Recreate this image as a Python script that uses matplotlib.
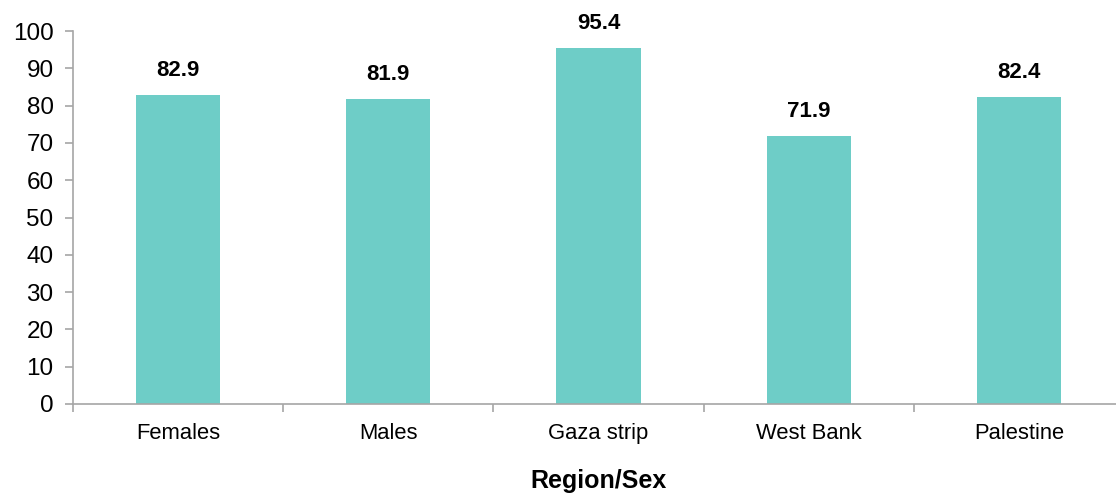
import matplotlib.pyplot as plt

plt.rcParams['font.family'] = ['Liberation Sans', 'DejaVu Sans']

categories = ['Females', 'Males', 'Gaza strip', 'West Bank', 'Palestine']
values = [82.9, 81.9, 95.4, 71.9, 82.4]

bar_color = '#6ECDC7'
spine_color = '#A6A6A6'

fig = plt.figure(figsize=(11.16, 4.99), dpi=100)
ax = fig.add_axes([73 / 1116, 1 - 404 / 499, 1051 / 1116, 373 / 499])

x = range(len(categories))
bars = ax.bar(x, values, width=0.4, color=bar_color)

for rect, v in zip(bars, values):
    ax.annotate(f'{v:.1f}', (rect.get_x() + rect.get_width() / 2, v),
                xytext=(0, 10), textcoords='offset points',
                ha='center', va='bottom', fontsize=16, fontweight='bold')

ax.set_xlim(-0.5, len(categories) - 0.5)
ax.set_ylim(0, 100)
ax.set_yticks(range(0, 101, 10))
ax.tick_params(axis='y', labelsize=17.5, length=6, color=spine_color, width=1.2, pad=8)

ax.set_xticks(list(x))
ax.set_xticklabels(categories, fontsize=15.8)
ax.tick_params(axis='x', length=0, pad=14)
ax.set_xticks([i + 0.5 for i in range(-1, len(categories))], minor=True)
ax.tick_params(axis='x', which='minor', length=6, color=spine_color, width=1.2)

for s in ['top', 'right']:
    ax.spines[s].set_visible(False)
for s in ['left', 'bottom']:
    ax.spines[s].set_color(spine_color)
    ax.spines[s].set_linewidth(1.2)

ax.set_xlabel('Region/Sex', fontsize=18, fontweight='bold', labelpad=17.5)

plt.savefig('out.png', dpi=100)
